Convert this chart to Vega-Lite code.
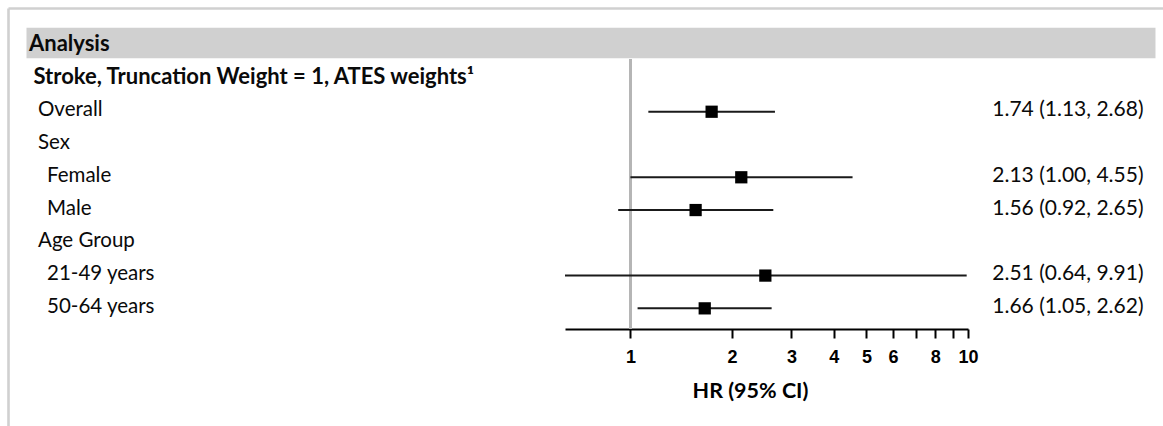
{
  "$schema": "https://vega.github.io/schema/vega-lite/v6.json",
  "width": 1155,
  "height": 418,
  "padding": {"left": 8, "top": 8, "right": 0, "bottom": 0},
  "autosize": {"type": "none"},
  "background": "white",
  "config": {"view": {"stroke": null}, "font": "Lato"},
  "data": {
    "values": [
      {"order": 1, "kind": "header", "indent": 0, "label": "Analysis", "est": ""},
      {"order": 2, "kind": "section", "indent": 1, "label": "Stroke, Truncation Weight = 1, ATES weights\u00b9", "est": ""},
      {"order": 3, "kind": "item", "indent": 2, "label": "Overall", "est": "1.74 (1.13, 2.68)", "hr": 1.74, "lo": 1.13, "hi": 2.68},
      {"order": 4, "kind": "group", "indent": 2, "label": "Sex", "est": ""},
      {"order": 5, "kind": "item", "indent": 4, "label": "Female", "est": "2.13 (1.00, 4.55)", "hr": 2.13, "lo": 1.0, "hi": 4.55},
      {"order": 6, "kind": "item", "indent": 4, "label": "Male", "est": "1.56 (0.92, 2.65)", "hr": 1.56, "lo": 0.92, "hi": 2.65},
      {"order": 7, "kind": "group", "indent": 2, "label": "Age Group", "est": ""},
      {"order": 8, "kind": "item", "indent": 4, "label": "21-49 years", "est": "2.51 (0.64, 9.91)", "hr": 2.51, "lo": 0.64, "hi": 9.91},
      {"order": 9, "kind": "item", "indent": 4, "label": "50-64 years", "est": "1.66 (1.05, 2.62)", "hr": 1.66, "lo": 1.05, "hi": 2.62}
    ]
  },
  "resolve": {"scale": {"x": "independent"}, "axis": {"x": "independent"}},
  "layer": [
    {
      "transform": [{"fold": ["label", "est"], "as": ["column", "text"]}],
      "encoding": {
        "y": {
          "field": "order", "type": "ordinal",
          "scale": {"domain": [1, 2, 3, 4, 5, 6, 7, 8, 9, 10, 11, 12], "paddingInner": 0.0662, "paddingOuter": 0.4109, "align": 0.8503},
          "axis": {"domain": true, "domainColor": "#d0d0d0", "domainWidth": 2.6, "ticks": false, "labels": false, "title": null, "grid": false}
        }
      },
      "layer": [
        {
          "transform": [{"filter": "datum.kind == 'header'"}],
          "mark": {"type": "rect", "color": "#d0d0d0"},
          "encoding": {
            "x": {
              "field": "column", "type": "nominal",
              "scale": {"domain": ["label", "est"], "paddingInner": 0, "paddingOuter": 0.02303, "align": 0.7115},
              "axis": {"orient": "top", "domain": true, "domainColor": "#d0d0d0", "domainWidth": 2.4, "ticks": false, "labels": false, "title": null, "grid": false}
            },
            "y": {"field": "order", "type": "ordinal", "bandPosition": -0.105},
            "y2": {"field": "order", "bandPosition": 0.895}
          }
        },
        {
          "transform": [{"filter": "datum.column == 'label' && datum.kind == 'header'"}],
          "mark": {"type": "text", "align": "left", "baseline": "middle", "dx": 2.5, "dy": -2, "font": "Lato", "fontSize": 22, "fontWeight": "bold", "color": "#0a0a0a"},
          "encoding": {
            "x": {"field": "column", "type": "nominal", "bandPosition": 0},
            "text": {"field": "text"}
          }
        },
        {
          "transform": [{"filter": "datum.column == 'label' && datum.kind == 'section'"}],
          "mark": {"type": "text", "align": "left", "baseline": "middle", "dx": {"expr": "2.5 + datum.indent * 4.5"}, "dy": -1.5, "font": "Lato", "fontSize": 22, "fontWeight": "bold", "color": "#0a0a0a"},
          "encoding": {
            "x": {"field": "column", "type": "nominal", "bandPosition": 0},
            "text": {"field": "text"}
          }
        },
        {
          "transform": [{"filter": "datum.column == 'label' && datum.kind != 'header' && datum.kind != 'section'"}],
          "mark": {"type": "text", "align": "left", "baseline": "middle", "dx": {"expr": "2.5 + datum.indent * 4.5"}, "dy": -1.5, "font": "Lato", "fontSize": 20.5, "color": "#0a0a0a"},
          "encoding": {
            "x": {"field": "column", "type": "nominal", "bandPosition": 0},
            "text": {"field": "text"}
          }
        },
        {
          "transform": [{"filter": "datum.column == 'est' && datum.text != ''"}],
          "mark": {"type": "text", "align": "right", "baseline": "middle", "dx": -12, "dy": -1.5, "font": "Lato", "fontSize": 21, "color": "#0a0a0a"},
          "encoding": {
            "x": {"field": "column", "type": "nominal", "bandPosition": 1},
            "text": {"field": "text"}
          }
        }
      ]
    },
    {
      "layer": [
        {
          "mark": {"type": "rule", "color": "#b5b5b5", "strokeWidth": 2.6},
          "encoding": {
            "x": {
              "datum": 1, "type": "quantitative",
              "scale": {"type": "log", "domain": [0.64, 10], "range": [557, 960], "nice": false, "zero": false},
              "axis": {
                "orient": "bottom", "offset": -97,
                "values": [1, 2, 3, 4, 5, 6, 7, 8, 9, 10],
                "labelExpr": "datum.value == 7 || datum.value == 9 ? '' : datum.label",
                "format": "d",
                "grid": false,
                "domainColor": "#000", "domainWidth": 2,
                "tickColor": "#000", "tickWidth": 2, "tickSize": 9,
                "labelFont": "Liberation Sans", "labelFontWeight": "bold", "labelFontSize": 18, "labelColor": "#000",
                "labelPadding": 10, "labelOverlap": false, "labelFlush": false,
                "title": "HR (95% CI)", "titleFont": "Lato", "titleFontWeight": "bold", "titleFontSize": 21.5, "titleColor": "#000",
                "titlePadding": 14, "titleX": 742
              }
            },
            "y": {"datum": 2, "type": "ordinal", "bandPosition": -0.15},
            "y2": {"datum": 9, "bandPosition": 1.1745}
          }
        },
        {
          "transform": [{"filter": "isValid(datum.hr)"}],
          "mark": {"type": "rule", "color": "#1a1a1a", "strokeWidth": 2},
          "encoding": {
            "x": {"field": "lo", "type": "quantitative"},
            "x2": {"field": "hi"},
            "y": {"field": "order", "type": "ordinal"}
          }
        },
        {
          "transform": [{"filter": "isValid(datum.hr)"}],
          "mark": {"type": "point", "shape": "square", "filled": true, "size": 150, "color": "#000", "opacity": 1},
          "encoding": {
            "x": {"field": "hr", "type": "quantitative"},
            "y": {"field": "order", "type": "ordinal"}
          }
        }
      ]
    }
  ]
}
